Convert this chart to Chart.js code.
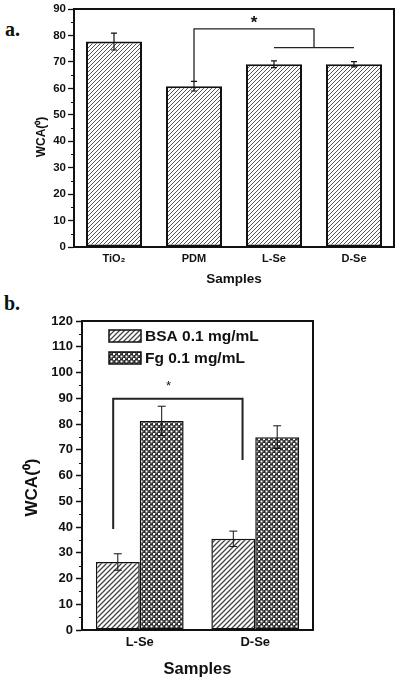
<!DOCTYPE html>
<html>
<head>
<meta charset="utf-8">
<script src="https://cdn.jsdelivr.net/npm/chart.js@4"></script>
<style>
  body { margin: 0; background: #fff; }
  #wrap { position: relative; width: 400px; height: 683px; }
  .tag { position: absolute; font: bold 20px "Liberation Serif", "DejaVu Serif", serif; line-height: 20px; color: #111; }
  canvas { position: absolute; left: 0; }
</style>
</head>
<body>
<div id="wrap">
  <div class="tag" style="left:5px;top:19px">a.</div>
  <div class="tag" style="left:4px;top:293px">b.</div>
  <canvas id="chartA" width="400" height="295" style="top:0"></canvas>
  <canvas id="chartB" width="400" height="383" style="top:300px"></canvas>
</div>
<script>
// panel a
const samplesA = ["TiO₂", "PDM", "L-Se", "D-Se"];
const wcaA = [77.7, 60.8, 69.1, 69.1];
const errA = [3.2, 1.8, 1.3, 1.0];

// panel b
const samplesB = ["L-Se", "D-Se"];
const bsaB = [26.4, 35.4];
const bsaErrB = [3.2, 3.0];
const fgB = [81.2, 74.9];
const fgErrB = [5.7, 4.4];

const FONT = "'Liberation Sans', Arial, sans-serif";
const INK = "#111";

function hatch(size, lw, color) {
    const c = document.createElement("canvas");
    c.width = c.height = size;
    const g = c.getContext("2d");
    g.fillStyle = "#fff";
    g.fillRect(0, 0, size, size);
    g.strokeStyle = color;
    g.lineWidth = lw;
    g.beginPath();
    g.moveTo(0, size); g.lineTo(size, 0);
    g.moveTo(-size, size); g.lineTo(size, -size);
    g.moveTo(0, 2 * size); g.lineTo(2 * size, 0);
    g.stroke();
    return g.createPattern(c, "repeat");
}

// dark cross-hatch with white dots on a diagonal lattice
function dots(size) {
    const c = document.createElement("canvas");
    c.width = c.height = size;
    const g = c.getContext("2d");
    g.fillStyle = "#2b2b2b";
    g.fillRect(0, 0, size, size);
    g.fillStyle = "#fff";
    const d = size / 2;
    g.fillRect(0.5, 0.5, 2, 2);
    g.fillRect(d + 0.5, d + 0.5, 2, 2);
    g.fillStyle = "#888";
    g.fillRect(d + 0.5, 0.5, 1, 1);
    g.fillRect(0.5, d + 0.5, 1, 1);
    return g.createPattern(c, "repeat");
}

// error bars, minor ticks, frame
const extras = {
    id: "extras",
    afterDatasetsDraw(chart, args, opts) {
        const { ctx, chartArea: a, scales: { x, y } } = chart;
        ctx.save();
        ctx.strokeStyle = INK;
        // error bars
        chart.data.datasets.forEach((ds, di) => {
            const meta = chart.getDatasetMeta(di);
            ds.err.forEach((e, i) => {
                const px = meta.data[i].x;
                const top = y.getPixelForValue(ds.data[i] + e);
                const bot = y.getPixelForValue(ds.data[i] - e);
                ctx.lineWidth = opts.errWidth;
                ctx.beginPath();
                ctx.moveTo(px, top); ctx.lineTo(px, bot);
                ctx.moveTo(px - opts.cap, top); ctx.lineTo(px + opts.cap, top);
                ctx.moveTo(px - opts.cap, bot); ctx.lineTo(px + opts.cap, bot);
                ctx.stroke();
            });
        });
        // minor ticks
        ctx.lineWidth = 1.2;
        ctx.beginPath();
        for (let v = 5; v < y.max; v += 10) {
            const py = Math.round(y.getPixelForValue(v)) + 0.5;
            ctx.moveTo(a.left - 3, py); ctx.lineTo(a.left, py);
        }
        ctx.stroke();
        // frame
        ctx.lineWidth = 2;
        ctx.strokeRect(a.left, a.top, a.right - a.left, a.bottom - a.top);
        // y title
        ctx.fillStyle = INK;
        ctx.font = opts.yFont;
        ctx.textAlign = "center";
        ctx.textBaseline = "middle";
        ctx.translate(opts.yTitleX, (a.top + a.bottom) / 2 + opts.yTitleShift);
        ctx.rotate(-Math.PI / 2);
        ctx.fillText("WCA(⁰)", 0, 0);
        ctx.restore();
    }
};

// significance brackets: points given as [category index, value]
const bracket = {
    id: "bracket",
    afterDatasetsDraw(chart, args, opts) {
        const { ctx, scales: { x, y } } = chart;
        ctx.save();
        ctx.strokeStyle = "#222";
        ctx.lineWidth = opts.width;
        opts.paths.forEach(p => {
            ctx.beginPath();
            p.forEach(([c, v], k) => {
                const px = x.getPixelForValue(c), py = y.getPixelForValue(v);
                k ? ctx.lineTo(px, py) : ctx.moveTo(px, py);
            });
            ctx.stroke();
        });
        ctx.fillStyle = INK;
        ctx.font = opts.starFont;
        ctx.textAlign = "center";
        ctx.textBaseline = "middle";
        ctx.fillText("*", x.getPixelForValue(opts.star[0]), y.getPixelForValue(opts.star[1]));
        ctx.restore();
    }
};

// legend drawn inside the plot
const boxLegend = {
    id: "boxLegend",
    afterDraw(chart, args, opts) {
        const { ctx } = chart;
        ctx.save();
        ctx.font = opts.font;
        ctx.textBaseline = "middle";
        chart.data.datasets.forEach((ds, i) => {
            const yy = opts.y + i * opts.gap;
            ctx.fillStyle = ds.backgroundColor;
            ctx.fillRect(opts.x, yy - 6, 32, 12);
            ctx.strokeStyle = INK;
            ctx.lineWidth = 1.5;
            ctx.strokeRect(opts.x, yy - 6, 32, 12);
            ctx.fillStyle = INK;
            ctx.fillText(ds.label, opts.x + 36, yy + 1);
        });
        ctx.restore();
    }
};

const tickFont = size => ({ family: FONT, size: size, weight: "bold" });

new Chart(document.getElementById("chartA"), {
    type: "bar",
    data: {
        labels: samplesA,
        datasets: [{
            data: wcaA, err: errA,
            backgroundColor: hatch(4, 1.0, "#555"),
            borderColor: INK, borderWidth: 2, borderSkipped: false,
            barPercentage: 0.7, categoryPercentage: 1
        }]
    },
    plugins: [extras, bracket],
    options: {
        responsive: false, animation: false,
        layout: { padding: { top: 9, right: 6, left: 0, bottom: 0 } },
        plugins: {
            legend: { display: false }, tooltip: { enabled: false },
            extras: { errWidth: 1.2, cap: 3, yFont: `bold 12px ${FONT}`, yTitleX: 42, yTitleShift: 9 },
            bracket: {
                width: 1.3, starFont: `bold 17px ${FONT}`,
                paths: [[[1, 62.8], [1, 82.5], [2.5, 82.5], [2.5, 75.4]], [[2, 75.4], [3, 75.4]]],
                star: [1.75, 84.6]
            }
        },
        scales: {
            x: {
                grid: { display: false, drawTicks: false },
                border: { color: INK, width: 2 },
                ticks: { color: INK, font: tickFont(11), padding: 5 },
                title: { display: true, text: "Samples", color: INK, font: tickFont(13.5), padding: { top: 0, bottom: 8 } },
                afterFit: s => { s.height = 48; }
            },
            y: {
                min: 0, max: 90,
                grid: { drawOnChartArea: false, tickLength: 6, tickColor: INK, tickWidth: 1.3 },
                border: { color: INK, width: 2 },
                ticks: { stepSize: 10, color: INK, font: tickFont(11.5), padding: 2 },
                afterFit: s => { s.width = 74; }
            }
        }
    }
});

new Chart(document.getElementById("chartB"), {
    type: "bar",
    data: {
        labels: samplesB,
        datasets: [
            {
                label: "BSA 0.1 mg/mL", data: bsaB, err: bsaErrB,
                backgroundColor: hatch(5, 1.3, "#444"),
                borderColor: INK, borderWidth: 1.5, borderSkipped: false,
                barPercentage: 1, categoryPercentage: 0.76
            },
            {
                label: "Fg 0.1 mg/mL", data: fgB, err: fgErrB,
                backgroundColor: dots(5),
                borderColor: INK, borderWidth: 1.5, borderSkipped: false,
                barPercentage: 1, categoryPercentage: 0.76
            }
        ]
    },
    plugins: [extras, bracket, boxLegend],
    options: {
        responsive: false, animation: false,
        layout: { padding: { top: 21, right: 87, left: 0, bottom: 0 } },
        plugins: {
            legend: { display: false }, tooltip: { enabled: false },
            extras: { errWidth: 1, cap: 4, yFont: `bold 17px ${FONT}`, yTitleX: 32, yTitleShift: 12 },
            bracket: {
                width: 2, starFont: `13px ${FONT}`,
                paths: [[[-0.23, 39.2], [-0.23, 89.8], [0.89, 89.8], [0.89, 66]]],
                star: [0.25, 94.5]
            },
            boxLegend: { x: 109, y: 36, gap: 22, font: `bold 15.5px ${FONT}` }
        },
        scales: {
            x: {
                grid: { display: false, drawTicks: false },
                border: { color: INK, width: 2 },
                ticks: { color: INK, font: tickFont(13), padding: 5 },
                title: { display: true, text: "Samples", color: INK, font: tickFont(16.5), padding: { top: 0, bottom: 4 } },
                afterFit: s => { s.height = 53; }
            },
            y: {
                min: 0, max: 120,
                grid: { drawOnChartArea: false, tickLength: 6, tickColor: INK, tickWidth: 1.5 },
                border: { color: INK, width: 2 },
                ticks: { stepSize: 10, color: INK, font: tickFont(13), padding: 3 },
                afterFit: s => { s.width = 82; }
            }
        }
    }
});
</script>
</body>
</html>
